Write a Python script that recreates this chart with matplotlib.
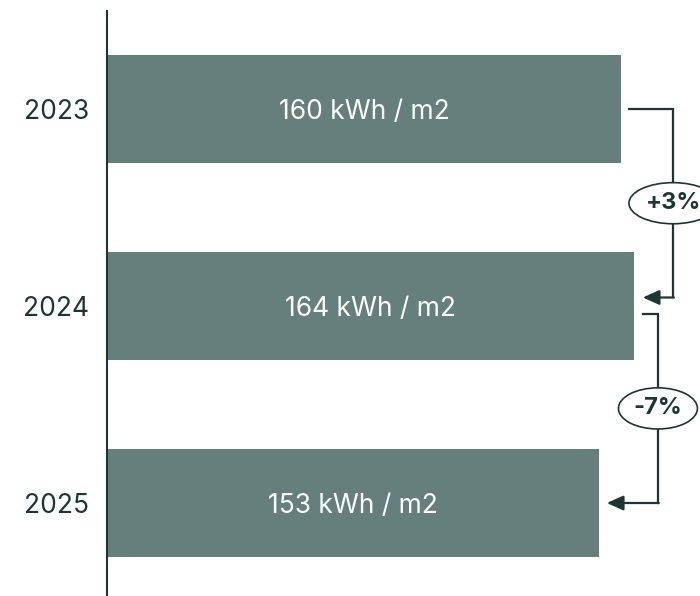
import matplotlib.pyplot as plt

plt.rcParams['font.family'] = ['Inter', 'DejaVu Sans']

years = ['2023', '2024', '2025']
usage = [160, 164, 153]
unit = 'kWh / m2'
change_labels = ['+3%', '-7%']

bar_color = '#647f7c'
ink = '#1c3634'

fig = plt.figure(figsize=(7, 5.96), dpi=100)
ax = fig.add_axes([107 / 700, 0, 593 / 700, 585 / 596])

pos = list(range(len(years)))
ax.barh(pos, usage, height=0.548, color=bar_color, zorder=2)
for p, v in zip(pos, usage):
    ax.text(v / 2, p, f'{v} {unit}', color='white', fontsize=19,
            ha='center', va='center_baseline', zorder=3)

ax.set_xlim(0, 593 / 3.2125)
ax.set_ylim(2.472, -0.497)
ax.set_yticks(pos, years)
ax.set_xticks([])
ax.tick_params(axis='y', length=0, pad=13, labelsize=19, labelcolor=ink)
for side in ['top', 'right', 'bottom']:
    ax.spines[side].set_visible(False)
ax.spines['left'].set_color(ink)
ax.spines['left'].set_linewidth(1.5)

# brackets linking each year to the next, with the change in the middle
reach = [12.2, 7.5]
start_gap = [2.5, 2.8]
tip_gap = [2.8, 2.6]
start_dy = [0.0, 0.04]
end_dy = [-0.043, 0.0]
for i, lab in enumerate(change_labels):
    a, b = usage[i], usage[i + 1]
    xv = max(a, b) + reach[i]
    y0 = pos[i] + start_dy[i]
    y1 = pos[i + 1] + end_dy[i]
    ax.plot([a + start_gap[i], xv, xv], [y0, y0, y1], color=ink, lw=1.6,
            solid_joinstyle='miter', clip_on=False, zorder=3)
    ax.annotate('', xy=(b + tip_gap[i], y1), xytext=(xv + 0.25, y1),
                arrowprops=dict(arrowstyle='-|>,head_length=1.0,head_width=0.45',
                                color=ink, lw=1.6, shrinkA=0, shrinkB=0),
                annotation_clip=False, zorder=3)
    ax.text(xv, (y0 + y1) / 2, lab, fontsize=17, fontweight='bold', color=ink,
            ha='center', va='center', clip_on=False, zorder=4,
            bbox=dict(boxstyle='ellipse,pad=0.15', fc='white', ec=ink, lw=1.2))

fig.savefig('out.png', dpi=100)
